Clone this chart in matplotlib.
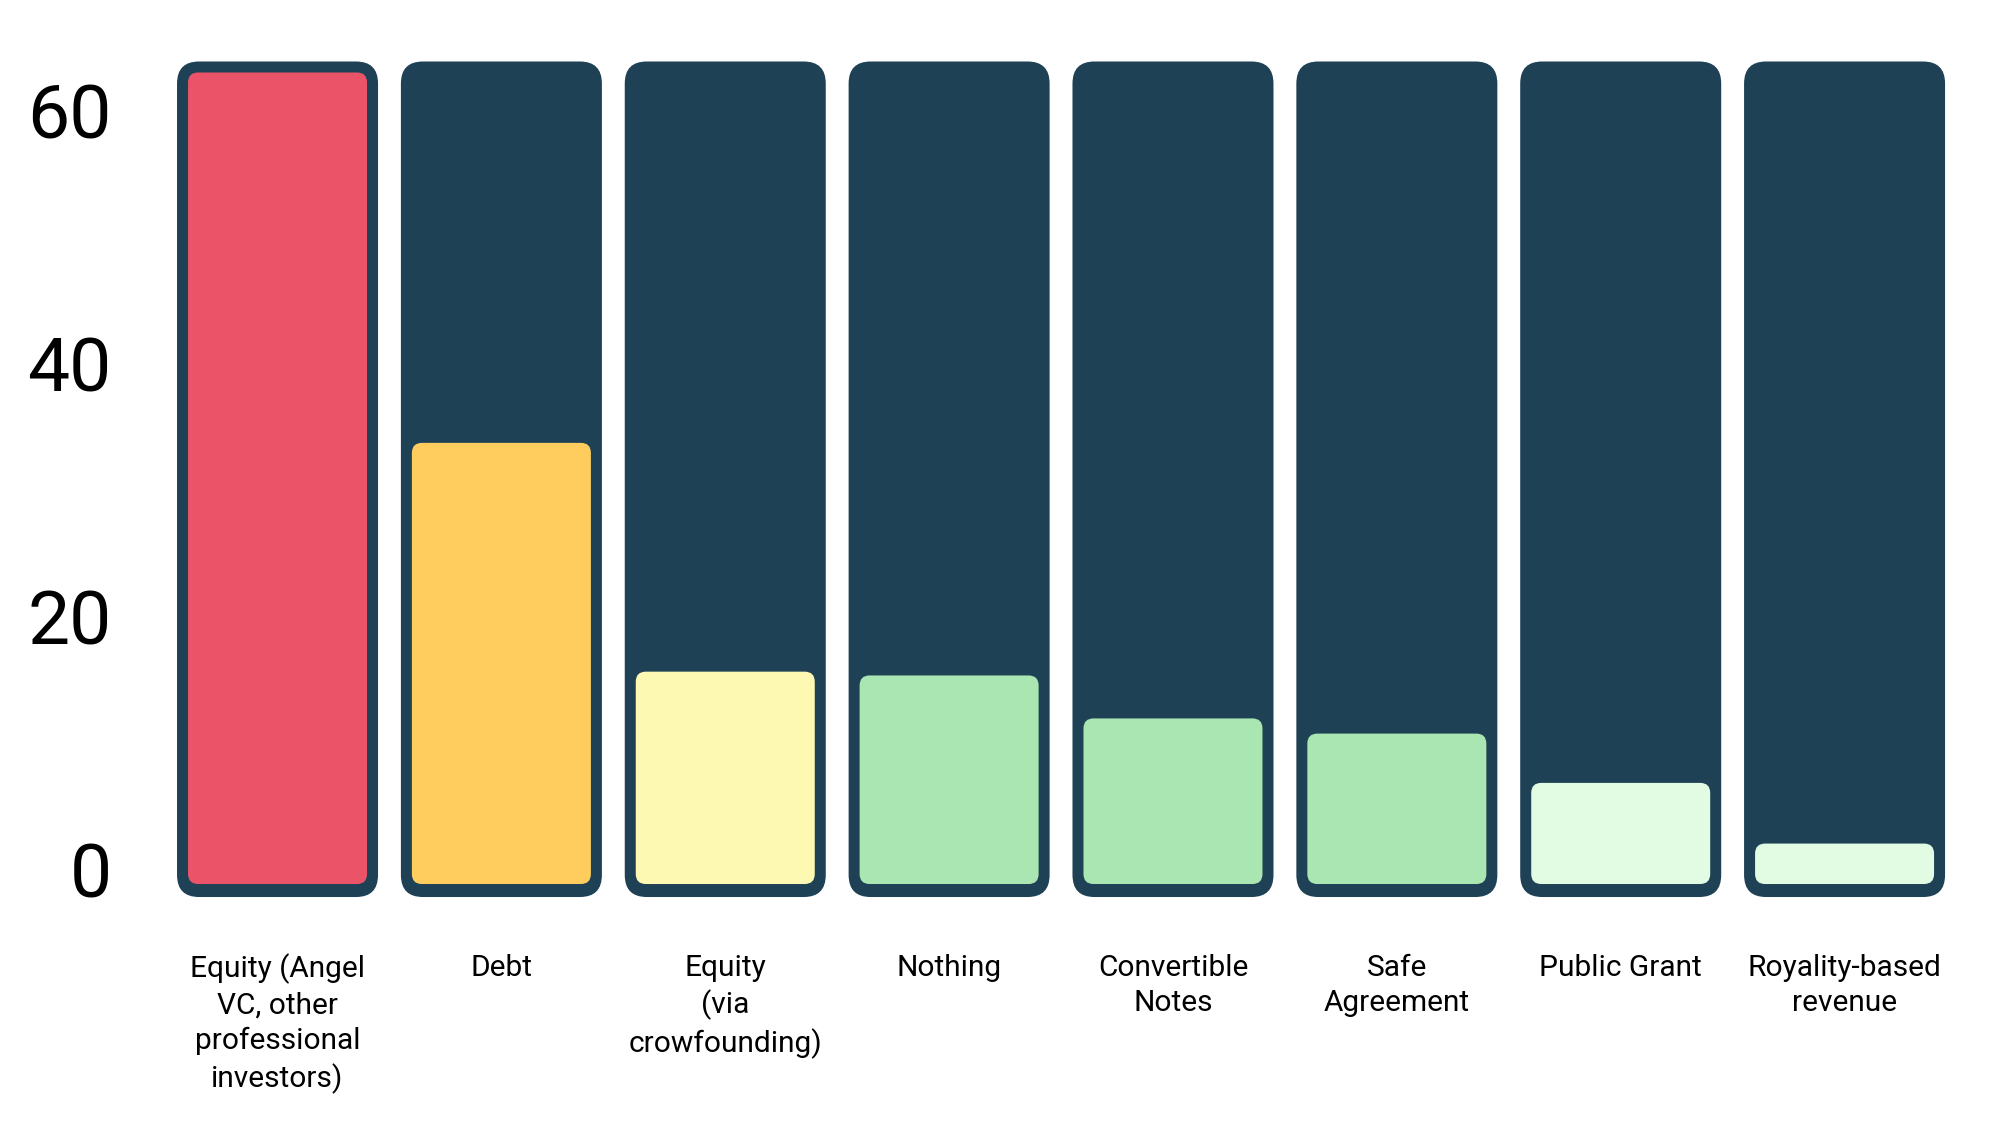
import matplotlib
matplotlib.use("Agg")
import matplotlib.pyplot as plt
from matplotlib.patches import FancyBboxPatch
from matplotlib.transforms import ScaledTranslation

plt.rcParams["font.family"] = ["Roboto", "DejaVu Sans"]

categories = [
    "Equity (Angel\nVC, other\nprofessional\ninvestors)",
    "Debt",
    "Equity\n(via\ncrowfounding)",
    "Nothing",
    "Convertible\nNotes",
    "Safe\nAgreement",
    "Public Grant",
    "Royality-based\nrevenue",
]
values = [64.2, 34.9, 16.8, 16.5, 13.1, 11.9, 8.0, 3.2]
bar_colors = ["#EB5368", "#FECD5D", "#FEF9B2", "#AAE6B2", "#AAE6B2", "#AAE6B2", "#E1FCE2", "#E1FCE2"]
y_ticks = [0, 20, 40, 60]

DARK = "#1E4155"
W_PX, H_PX, DPI = 1995, 1131, 100

# axes box in pixels (left, bottom, width, height)
ax_box = (165.6, 221.7, 1790.9, 872.2)
xlim = (-0.5, 7.5)
ylim = (-2, 67)
px_per_x = ax_box[2] / (xlim[1] - xlim[0])
px_per_y = ax_box[3] / (ylim[1] - ylim[0])
aspect = px_per_x / px_per_y

fig = plt.figure(figsize=(W_PX / DPI, H_PX / DPI), dpi=DPI)
ax = fig.add_axes([ax_box[0] / W_PX, ax_box[1] / H_PX, ax_box[2] / W_PX, ax_box[3] / H_PX])
ax.set_xlim(*xlim)
ax.set_ylim(*ylim)

x = list(range(len(categories)))


def round_bars(bars, radius_px, color_list, z):
    r = radius_px / px_per_x
    for rect, col in zip(bars, color_list):
        patch = FancyBboxPatch(
            (rect.get_x(), rect.get_y()), rect.get_width(), rect.get_height(),
            boxstyle=f"round,pad=0,rounding_size={r}",
            mutation_aspect=aspect,
            facecolor=col, edgecolor="none", zorder=z,
        )
        ax.add_patch(patch)
        rect.remove()


# dark background columns
bg_top = max(values) + 11 / px_per_y
bg_bottom = -13 / px_per_y
bg = ax.bar(x, [bg_top - bg_bottom] * len(x), bottom=bg_bottom, width=201 / px_per_x)
round_bars(bg, 22, [DARK] * len(x), 1)

# value columns
fg = ax.bar(x, values, width=179 / px_per_x)
round_bars(fg, 10, bar_colors, 2)

for side in ("top", "right", "bottom", "left"):
    ax.spines[side].set_visible(False)

ax.set_yticks(y_ticks)
ax.set_yticklabels([str(v) for v in y_ticks], fontsize=54, color="black")
ax.tick_params(axis="y", length=0, pad=39)
for lab in ax.get_yticklabels():
    lab.set_transform(lab.get_transform() + ScaledTranslation(0, 15 / DPI, fig.dpi_scale_trans))

ax.set_xticks(x)
ax.set_xticklabels(categories, fontsize=21.5, color="black", linespacing=1.33)
ax.tick_params(axis="x", length=0, pad=32)

fig.savefig("out.png", dpi=DPI, facecolor="white")
